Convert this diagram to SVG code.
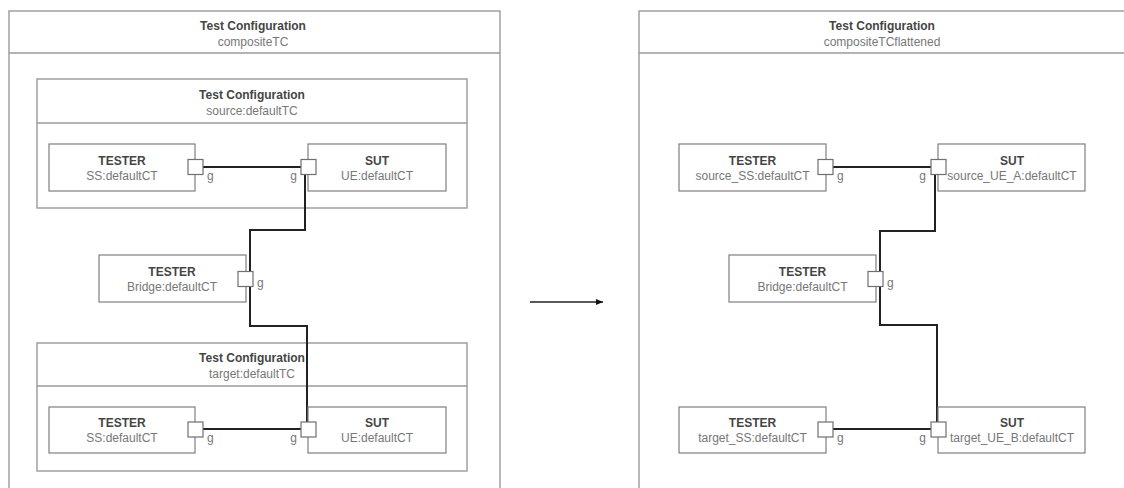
<svg xmlns="http://www.w3.org/2000/svg" width="1124" height="488" viewBox="0 0 1124 488">
<style>
.frame{fill:none;stroke:#9a9a9a;stroke-width:1.4}
.box{fill:#fff;stroke:#7f7f7f;stroke-width:1.2}
.port{fill:#fff;stroke:#6f6f6f;stroke-width:1.2}
.conn{fill:none;stroke:#222;stroke-width:2;stroke-linejoin:miter}
.t{font-family:"Liberation Sans",Arial,sans-serif;font-size:12px;text-anchor:middle}
.b{font-weight:bold;fill:#454545}
.r{fill:#777}
.g{font-family:"Liberation Sans",Arial,sans-serif;font-size:12px;fill:#777}
</style>
<defs>
<marker id="ah" markerWidth="8" markerHeight="8" refX="7" refY="4" orient="auto" markerUnits="userSpaceOnUse">
<path d="M0,1 L7,4 L0,7 Z" fill="#111"/>
</marker>
</defs>
<rect width="1124" height="488" fill="#fff"/>

<g id="compositeTC">
<rect class="frame" x="9" y="11" width="491" height="500"/>
<line class="frame" x1="9" y1="53" x2="500" y2="53"/>
<text class="t b" x="253" y="30">Test Configuration</text>
<text class="t r" x="253" y="46">compositeTC</text>
</g>

<g id="sourceTC">
<rect class="frame" x="37" y="79" width="430" height="129"/>
<line class="frame" x1="37" y1="123" x2="467" y2="123"/>
<text class="t b" x="252" y="99">Test Configuration</text>
<text class="t r" x="252" y="115">source:defaultTC</text>
</g>

<g id="targetTC">
<rect class="frame" x="37" y="343" width="430" height="128"/>
<line class="frame" x1="37" y1="386" x2="467" y2="386"/>
<text class="t b" x="252" y="362">Test Configuration</text>
<text class="t r" x="252" y="378">target:defaultTC</text>
</g>

<g id="compositeTCflattened">
<rect class="frame" x="639" y="11" width="500" height="500"/>
<line class="frame" x1="639" y1="53" x2="1139" y2="53"/>
<text class="t b" x="882" y="30">Test Configuration</text>
<text class="t r" x="882" y="46">compositeTCflattened</text>
</g>

<g id="connectors">
<polyline class="conn" points="203,167 301,167"/>
<polyline class="conn" points="305,175 305,230 250,230 250,271"/>
<polyline class="conn" points="250,287 250,326 307,326 307,422"/>
<polyline class="conn" points="203,429 301,429"/>
<polyline class="conn" points="833,167 931,167"/>
<polyline class="conn" points="935,175 935,231 880,231 880,271"/>
<polyline class="conn" points="880,287 880,325 937,325 937,422"/>
<polyline class="conn" points="833,429 931,429"/>
<line x1="530" y1="302" x2="603" y2="302" stroke="#222" stroke-width="1.6" marker-end="url(#ah)"/>
</g>

<g id="src_SS">
<rect class="box" x="49" y="144" width="146" height="47"/>
<text class="t b" x="122" y="165">TESTER</text>
<text class="t r" x="122" y="180">SS:defaultCT</text>
<rect class="port" x="188" y="159.5" width="15" height="15"/>
<text class="g" x="207" y="180">g</text>
</g>

<g id="src_UE">
<rect class="box" x="308" y="144" width="138" height="47"/>
<text class="t b" x="377" y="165">SUT</text>
<text class="t r" x="377" y="180">UE:defaultCT</text>
<rect class="port" x="301" y="159.5" width="15" height="15"/>
<text class="g" x="297" y="180" text-anchor="end">g</text>
</g>

<g id="bridge">
<rect class="box" x="99" y="255" width="147" height="47"/>
<text class="t b" x="172" y="276">TESTER</text>
<text class="t r" x="172" y="291">Bridge:defaultCT</text>
<rect class="port" x="238" y="271.5" width="15" height="15"/>
<text class="g" x="257" y="287">g</text>
</g>

<g id="tgt_SS">
<rect class="box" x="49" y="407" width="146" height="46"/>
<text class="t b" x="122" y="427">TESTER</text>
<text class="t r" x="122" y="442">SS:defaultCT</text>
<rect class="port" x="188" y="422" width="15" height="15"/>
<text class="g" x="207" y="442">g</text>
</g>

<g id="tgt_UE">
<rect class="box" x="308" y="407" width="138" height="46"/>
<text class="t b" x="377" y="427">SUT</text>
<text class="t r" x="377" y="442">UE:defaultCT</text>
<rect class="port" x="301" y="422" width="15" height="15"/>
<text class="g" x="297" y="442" text-anchor="end">g</text>
</g>

<g id="f_src_SS">
<rect class="box" x="679" y="144" width="147" height="47"/>
<text class="t b" x="752.5" y="165">TESTER</text>
<text class="t r" x="752.5" y="180">source_SS:defaultCT</text>
<rect class="port" x="818" y="159.5" width="15" height="15"/>
<text class="g" x="837" y="180">g</text>
</g>

<g id="f_src_UE">
<rect class="box" x="938" y="144" width="147" height="47"/>
<text class="t b" x="1012" y="165">SUT</text>
<text class="t r" x="1012" y="180">source_UE_A:defaultCT</text>
<rect class="port" x="931" y="159.5" width="15" height="15"/>
<text class="g" x="926" y="180" text-anchor="end">g</text>
</g>

<g id="f_bridge">
<rect class="box" x="729" y="255" width="147" height="47"/>
<text class="t b" x="802.5" y="276">TESTER</text>
<text class="t r" x="802.5" y="291">Bridge:defaultCT</text>
<rect class="port" x="868" y="271.5" width="15" height="15"/>
<text class="g" x="887" y="287">g</text>
</g>

<g id="f_tgt_SS">
<rect class="box" x="679" y="407" width="147" height="46"/>
<text class="t b" x="752.5" y="427">TESTER</text>
<text class="t r" x="752.5" y="442">target_SS:defaultCT</text>
<rect class="port" x="818" y="422" width="15" height="15"/>
<text class="g" x="837" y="442">g</text>
</g>

<g id="f_tgt_UE">
<rect class="box" x="938" y="407" width="147" height="46"/>
<text class="t b" x="1012" y="427">SUT</text>
<text class="t r" x="1012" y="442">target_UE_B:defaultCT</text>
<rect class="port" x="931" y="422" width="15" height="15"/>
<text class="g" x="926" y="442" text-anchor="end">g</text>
</g>
</svg>
